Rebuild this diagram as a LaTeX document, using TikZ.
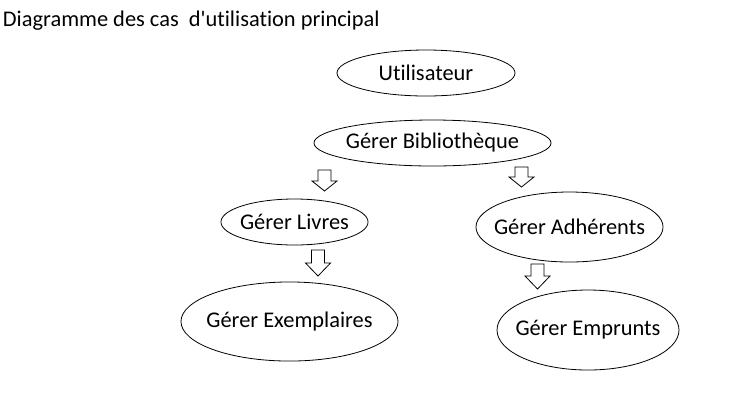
\documentclass[tikz,border=0pt]{standalone}
\usepackage{fontspec}
\setmainfont{Carlito}[Ligatures=NoCommon]
\usepackage{tikz}
\usetikzlibrary{shapes.geometric}

\tikzset{
  usecase/.style={ellipse,draw,line width=0.6pt,inner sep=0pt,label={center:#1}},
  pics/flechebas/.style 2 args={code={
    \draw[line width=0.6pt,line join=miter] (-6.5,0) -- (6.5,0) -- (6.5,#1-#2) -- (12.5,#1-#2)
      -- (0,#1) -- (-12.5,#1-#2) -- (-6.5,#1-#2) -- cycle;}}
}

\begin{document}
\begin{tikzpicture}[x=0.75pt,y=-0.75pt,font=\fontsize{16.8}{20}\selectfont]
\useasboundingbox (0,0) rectangle (748,405);
\node[anchor=base west,inner sep=0pt] (titre) at (2.7,26.7) {Diagramme des cas\ \ d\textquotesingle utilisation principal};

  \node[usecase=Utilisateur,minimum width=133.5pt,minimum height=34.5pt]        (U) at (426,73)     {};
  \node[usecase=Gérer Bibliothèque,minimum width=177.8pt,minimum height=34.5pt] (B) at (432.5,143)  {};
  \node[usecase=Gérer Livres,minimum width=110.3pt,minimum height=34.5pt]       (L) at (294.5,222)  {};
  \node[usecase=Gérer Adhérents,minimum width=140.3pt,minimum height=52.5pt]    (A) at (569.5,227)  {};
  \node[usecase=Gérer Exemplaires,minimum width=162.8pt,minimum height=59.3pt]  (X) at (289.5,321.5) {};
  \node[usecase=Gérer Emprunts,minimum width=136.5pt,minimum height=60pt]       (E) at (588,330)    {};

  % fleches
  \pic at (324.5,170) {flechebas={21}{10}};
  \pic at (521.5,167) {flechebas={20}{10}};
  \pic at (318,250)   {flechebas={26}{13}};
  \pic at (537.5,264) {flechebas={25}{13}};

\end{tikzpicture}
\end{document}
